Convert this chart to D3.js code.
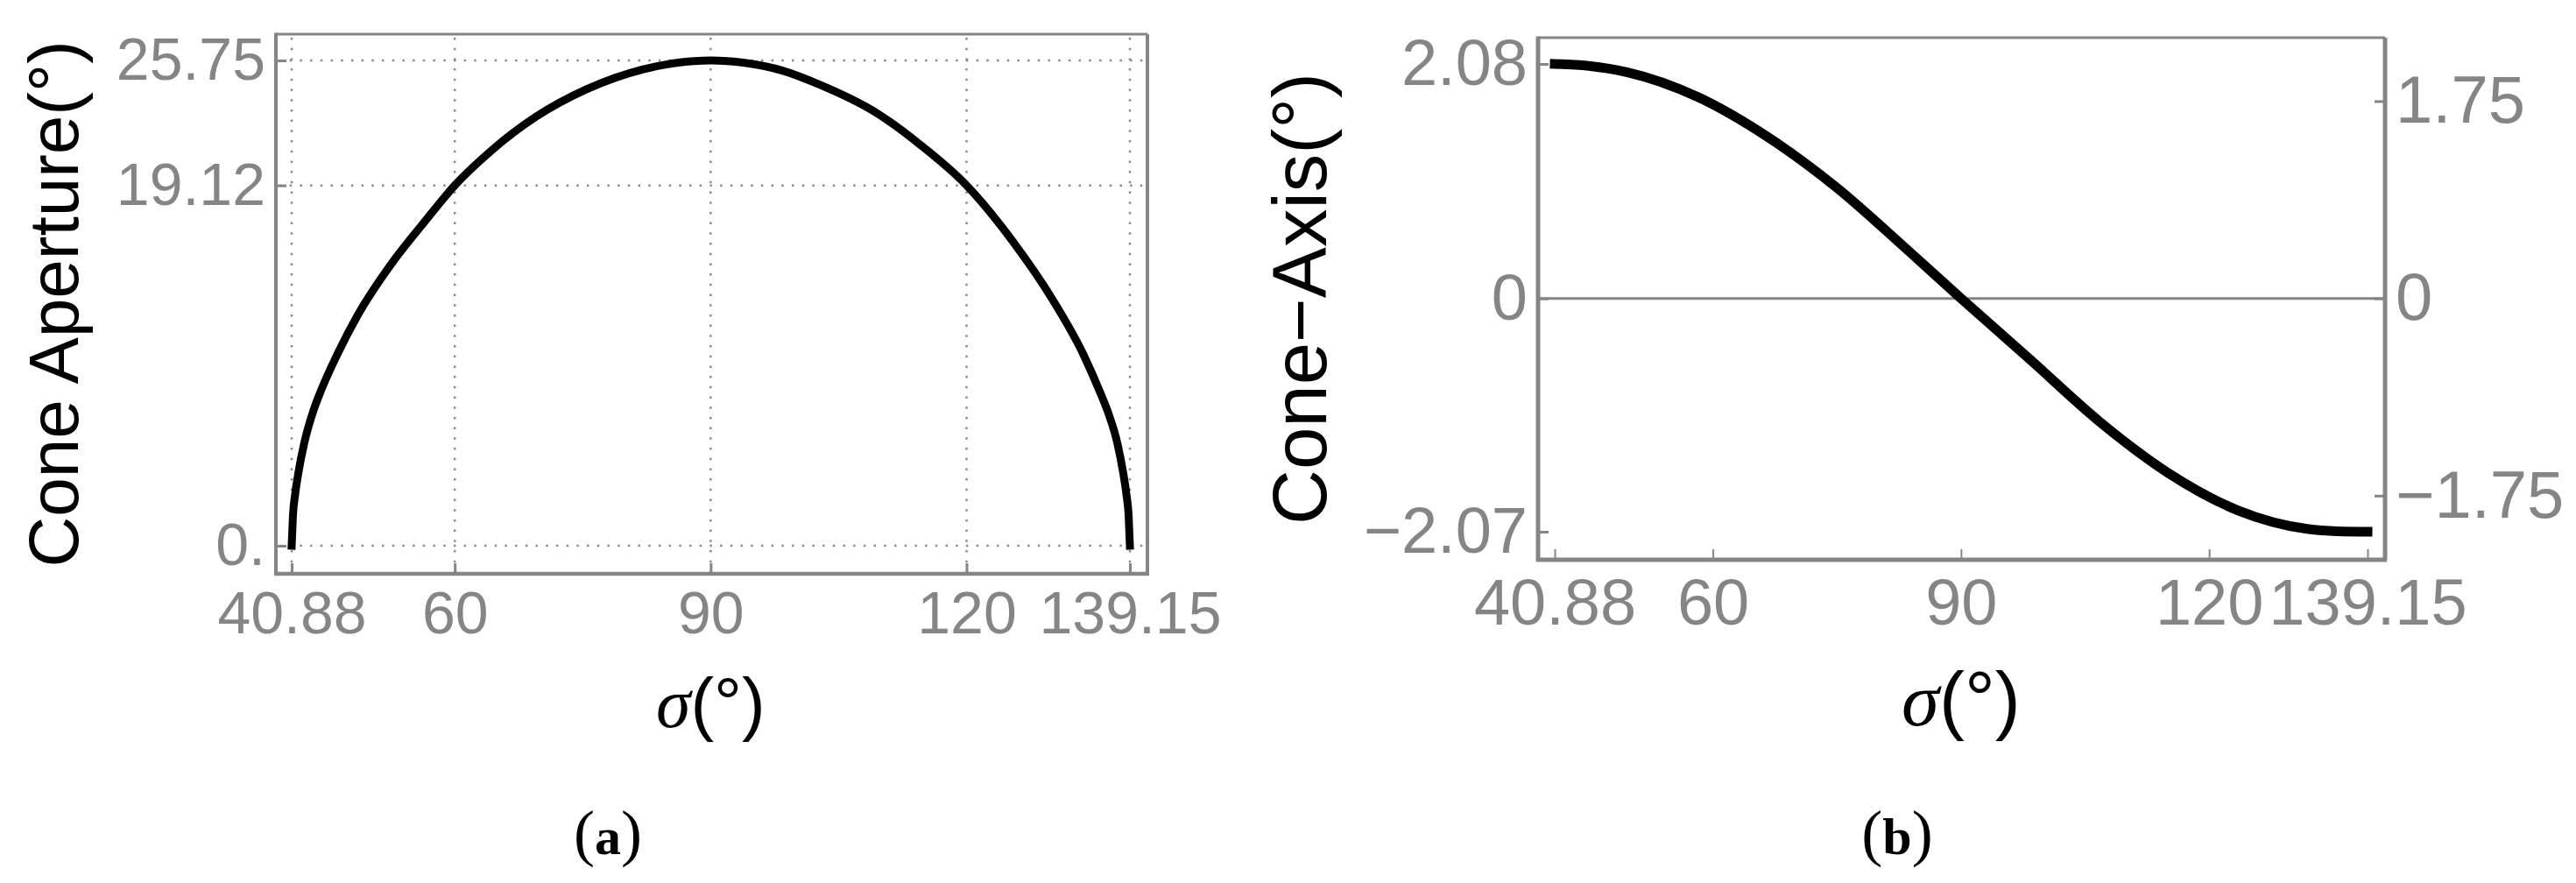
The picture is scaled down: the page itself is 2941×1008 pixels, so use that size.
<!DOCTYPE html>
<html>
<head>
<meta charset="utf-8">
<script src="https://cdn.jsdelivr.net/npm/d3@7"></script>
<style>
  html, body { margin: 0; padding: 0; background: #fff; }
  svg { display: block; }
</style>
</head>
<body>
<svg id="chart" width="2941" height="1008"></svg>
<script>
// ---------------- data ----------------
const xTicks = [40.88, 60, 90, 120, 139.15];
const xTickLabels = ["40.88", "60", "90", "120", "139.15"];

const yTicksA = [0, 19.12, 25.75];
const yTickLabelsA = ["0.", "19.12", "25.75"];

const yTicksBLeft = [-2.07, 0, 2.08];
const yTickLabelsBLeft = ["\u22122.07", "0", "2.08"];
const yTicksBRight = [-1.75, 0, 1.75];
const yTickLabelsBRight = ["\u22121.75", "0", "1.75"];

// (a) cone aperture vs sigma
const sigmaA    = [40.88, 41.03, 41.28, 41.68, 42.38, 43.38, 44.38, 46.28, 48.58, 52.48, 56.48, 60, 64.3, 69.55, 75.45, 82, 86, 90,
                   94, 98.5, 102.6, 109.5, 114.5, 120, 125.5, 130.1, 133.75, 135.6, 136.65, 137.65, 138.35, 138.75, 139.0, 139.15];
const apertureA = [0, 1.6, 2.7, 3.9, 5.5, 7.1, 8.3, 10.2, 12.2, 14.9, 17.2, 19.12, 20.97, 22.77, 24.22, 25.27, 25.62, 25.75,
                   25.62, 25.2, 24.5, 22.95, 21.3, 19.12, 16.1, 13.05, 10.1, 8.2, 7.0, 5.5, 3.9, 2.7, 1.6, 0];

// (b) cone axis vs sigma
const sigmaB = [40.88, 45.0, 49.7, 58.08, 66.47, 74.85, 83.23, 90, 98.32, 106.7, 115.07, 123.46, 131.84, 135.5, 139.15];
const axisB  = [2.08, 2.062, 2.005, 1.79, 1.44, 0.99, 0.45, 0, -0.54, -1.09, -1.55, -1.88, -2.045, -2.066, -2.07];

// ---------------- drawing ----------------
const svg = d3.select("#chart");
svg.append("rect").attr("width", 2941).attr("height", 1008).attr("fill", "#fff");
const GRAY = "#858585";
const FONT = "'Liberation Sans', Arial, Helvetica, sans-serif";

function frame(g, f, w) {
  g.append("line").attr("x1", f.l).attr("x2", f.r).attr("y1", f.t).attr("y2", f.t).attr("stroke", GRAY).attr("stroke-width", w.t);
  g.append("line").attr("x1", f.r).attr("x2", f.r).attr("y1", f.t).attr("y2", f.b).attr("stroke", GRAY).attr("stroke-width", w.r);
  g.append("line").attr("x1", f.l).attr("x2", f.l).attr("y1", f.t - 1.5).attr("y2", f.b + 2).attr("stroke", GRAY).attr("stroke-width", w.l);
  g.append("line").attr("x1", f.l - 2).attr("x2", f.r + 2).attr("y1", f.b).attr("y2", f.b).attr("stroke", GRAY).attr("stroke-width", w.b);
}

function styleAxis(sel, fontSize) {
  sel.select(".domain").remove();
  sel.selectAll(".tick line").attr("stroke", GRAY).attr("stroke-width", 3);
  sel.selectAll(".tick text").attr("fill", GRAY).attr("font-family", FONT).attr("font-size", fontSize);
}

// ===== Panel (a) =====
{
  const f = { l: 315, r: 1310, t: 39, b: 655 };
  const x = d3.scaleLinear().domain([40.88, 139.15]).range([333, 1290]);
  const y = d3.scaleLinear().domain([0, 25.75]).range([623, 69]);
  const g = svg.append("g");

  // dotted gridlines
  g.selectAll(".gx").data(xTicks).enter().append("line")
    .attr("x1", d => x(d)).attr("x2", d => x(d)).attr("y1", f.t + 4).attr("y2", f.b - 2)
    .attr("stroke", "#8a8a8a").attr("stroke-width", 2.5).attr("stroke-dasharray", "2.5,9.2");
  g.selectAll(".gy").data(yTicksA).enter().append("line")
    .attr("x1", f.l + 4).attr("x2", f.r - 2).attr("y1", d => y(d)).attr("y2", d => y(d))
    .attr("stroke", "#8a8a8a").attr("stroke-width", 2.5).attr("stroke-dasharray", "2.5,9.2");

  frame(g, f, { t: 3, r: 4, l: 4, b: 4.5 });

  const ax = g.append("g").attr("transform", `translate(0,${f.b})`)
    .call(d3.axisBottom(x).tickValues(xTicks).tickFormat((d, i) => xTickLabels[i]).tickSize(-12).tickPadding(20));
  styleAxis(ax, 68);
  const ay = g.append("g").attr("transform", `translate(${f.l},0)`)
    .call(d3.axisLeft(y).tickValues(yTicksA).tickFormat((d, i) => yTickLabelsA[i]).tickSize(-12).tickPadding(12));
  styleAxis(ay, 68);

  const line = d3.line().x((d, i) => x(sigmaA[i])).y(d => y(d)).curve(d3.curveMonotoneX);
  g.append("path").datum(apertureA).attr("d", line)
    .attr("fill", "none").attr("stroke", "#000").attr("stroke-width", 9).attr("stroke-linecap", "square")
    .attr("stroke-linejoin", "round");

  // titles
  g.append("text").attr("transform", `translate(89,${(f.t + f.b) / 2}) rotate(-90)`)
    .attr("text-anchor", "middle").attr("font-family", FONT).attr("font-size", 80).attr("fill", "#000")
    .text("Cone Aperture(\u00B0)");
  const xt = g.append("text").attr("x", x(90)).attr("y", 830).attr("text-anchor", "middle")
    .attr("font-family", FONT).attr("font-size", 80).attr("fill", "#000");
  xt.append("tspan").attr("font-style", "italic").attr("font-family", "'Liberation Serif', 'DejaVu Serif', serif").text("\u03C3");
  xt.append("tspan").text("(\u00B0)");

  const lab = g.append("text").attr("x", 694).attr("y", 975).attr("text-anchor", "middle")
    .attr("font-family", "'Liberation Serif', 'Times New Roman', serif").attr("fill", "#000");
  lab.append("tspan").attr("font-size", 72).text("(");
  lab.append("tspan").attr("font-size", 60).attr("font-weight", "bold").text("a");
  lab.append("tspan").attr("font-size", 72).text(")");
}

// ===== Panel (b) =====
{
  const f = { l: 1756, r: 2723, t: 43, b: 639 };
  const x = d3.scaleLinear().domain([40.88, 139.15]).range([1775, 2703]);
  const y = d3.scaleLinear().domain([-2.07, 2.08]).range([607, 73]);
  const g = svg.append("g");

  // zero line
  g.append("line").attr("x1", f.l).attr("x2", f.r).attr("y1", y(0)).attr("y2", y(0))
    .attr("stroke", GRAY).attr("stroke-width", 3);

  frame(g, f, { t: 3, r: 5, l: 5, b: 5 });

  const ax = g.append("g").attr("transform", `translate(0,${f.b})`)
    .call(d3.axisBottom(x).tickValues(xTicks).tickFormat((d, i) => xTickLabels[i]).tickSize(-12).tickPadding(21));
  styleAxis(ax, 74);
  ax.selectAll(".tick line").attr("stroke-width", 2);
  const ayl = g.append("g").attr("transform", `translate(${f.l},0)`)
    .call(d3.axisLeft(y).tickValues(yTicksBLeft).tickFormat((d, i) => yTickLabelsBLeft[i]).tickSize(-12).tickPadding(12));
  styleAxis(ayl, 74);
  const ayr = g.append("g").attr("transform", `translate(${f.r},0)`)
    .call(d3.axisRight(y).tickValues(yTicksBRight).tickFormat((d, i) => yTickLabelsBRight[i]).tickSize(-12).tickPadding(12));
  styleAxis(ayr, 76);

  const line = d3.line().x((d, i) => x(sigmaB[i])).y(d => y(d)).curve(d3.curveMonotoneX);
  g.append("path").datum(axisB).attr("d", line)
    .attr("fill", "none").attr("stroke", "#000").attr("stroke-width", 11).attr("stroke-linecap", "square")
    .attr("stroke-linejoin", "round");

  g.append("text").attr("transform", `translate(1514,${(f.t + f.b) / 2}) rotate(-90)`)
    .attr("text-anchor", "middle").attr("font-family", FONT).attr("font-size", 87).attr("fill", "#000")
    .text("Cone\u2212Axis(\u00B0)");
  const xt = g.append("text").attr("x", x(90)).attr("y", 828).attr("text-anchor", "middle")
    .attr("font-family", FONT).attr("font-size", 87).attr("fill", "#000");
  xt.append("tspan").attr("font-style", "italic").attr("font-family", "'Liberation Serif', 'DejaVu Serif', serif").text("\u03C3");
  xt.append("tspan").text("(\u00B0)");

  const lab = g.append("text").attr("x", 2166).attr("y", 975).attr("text-anchor", "middle")
    .attr("font-family", "'Liberation Serif', 'Times New Roman', serif").attr("fill", "#000");
  lab.append("tspan").attr("font-size", 72).text("(");
  lab.append("tspan").attr("font-size", 60).attr("font-weight", "bold").text("b");
  lab.append("tspan").attr("font-size", 72).text(")");
}
</script>
</body>
</html>
